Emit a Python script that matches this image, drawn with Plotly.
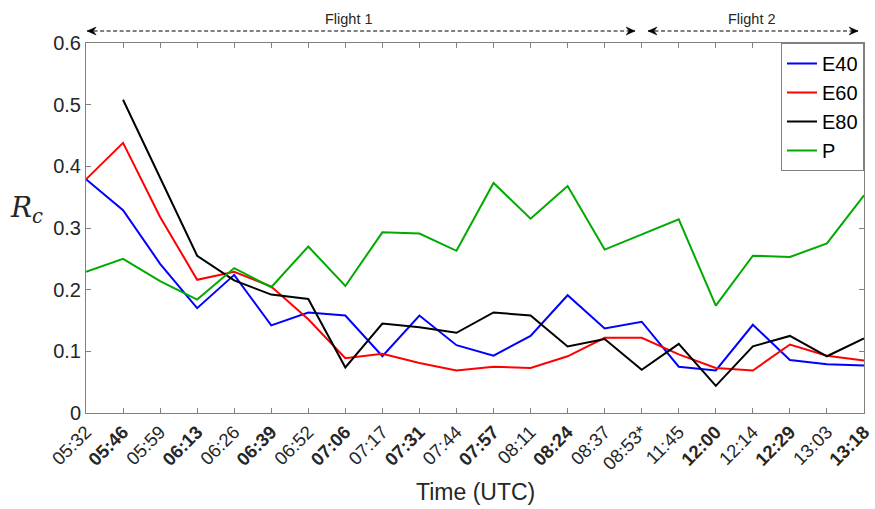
import plotly.graph_objects as go

times = ["05:32", "05:46", "05:59", "06:13", "06:26", "06:39", "06:52", "07:06", "07:17", "07:31",
         "07:44", "07:57", "08:11", "08:24", "08:37", "08:53*", "11:45", "12:00", "12:14", "12:29",
         "13:03", "13:18"]
bold_times = ["05:46", "06:13", "06:39", "07:06", "07:31", "07:57", "08:24", "12:00", "12:29", "13:18"]

e40 = [0.379, 0.329, 0.242, 0.170, 0.224, 0.142, 0.163, 0.158, 0.092, 0.158, 0.110, 0.093,
       0.125, 0.191, 0.137, 0.148, 0.075, 0.069, 0.143, 0.086, 0.079, 0.077]
e60 = [0.379, 0.438, 0.318, 0.216, 0.229, 0.205, 0.152, 0.089, 0.096, 0.081, 0.069, 0.075,
       0.073, 0.092, 0.122, 0.122, 0.095, 0.073, 0.069, 0.111, 0.093, 0.085]
e80 = [None, 0.508, 0.381, 0.255, 0.215, 0.192, 0.185, 0.074, 0.145, 0.139, 0.130, 0.163,
       0.158, 0.108, 0.120, 0.070, 0.112, 0.044, 0.108, 0.125, 0.092, 0.121]
p = [0.229, 0.250, 0.214, 0.184, 0.235, 0.204, 0.270, 0.206, 0.293, 0.291, 0.263, 0.373,
     0.315, 0.368, 0.265, 0.290, 0.314, 0.174, 0.255, 0.253, 0.275, 0.353]

series = [("E40", e40, "#0000ff"), ("E60", e60, "#ff0000"), ("E80", e80, "#000000"), ("P", p, "#00aa00")]

flight_labels = ["Flight 1", "Flight 2"]

xs = list(range(len(times)))
ticktext = [f"<b>{t}</b>" if t in bold_times else t for t in times]

FONT = "Liberation Sans, Arial, Helvetica, sans-serif"
TXT = "#262626"
AX = "#808080"

fig = go.Figure()
for name, vals, col in series:
    fig.add_trace(go.Scatter(x=xs, y=vals, mode="lines", name=name,
                             line=dict(color=col, width=2), connectgaps=False))

fig.update_layout(
    width=875, height=509,
    margin=dict(l=86, r=11, t=43, b=96),
    paper_bgcolor="white", plot_bgcolor="white",
    font=dict(family=FONT, color=TXT),
    showlegend=True,
    legend=dict(x=1, xanchor="right", y=1, yanchor="top",
                bgcolor="white", bordercolor=AX, borderwidth=1,
                font=dict(size=20, color="#000000", family=FONT),
                itemwidth=30, tracegroupgap=0),
    xaxis=dict(range=[0, len(times) - 1], tickmode="array", tickvals=xs, ticktext=ticktext,
               tickangle=-45, ticks="inside", ticklen=5, tickcolor=AX,
               showline=True, linecolor=AX, linewidth=1, mirror="ticks",
               showgrid=False, zeroline=False, automargin=False,
               tickfont=dict(size=18.5, color=TXT, family=FONT)),
    yaxis=dict(range=[0, 0.6], tickvals=[0, 0.1, 0.2, 0.3, 0.4, 0.5, 0.6],
               ticktext=["0", "0.1", "0.2", "0.3", "0.4", "0.5", "0.6"],
               ticks="inside", ticklen=5, tickcolor=AX,
               showline=True, linecolor=AX, linewidth=1, mirror="ticks",
               showgrid=False, zeroline=False, automargin=False,
               tickfont=dict(size=20, color=TXT, family=FONT)),
)

# x-axis title
fig.add_annotation(x=0.5, xref="paper", y=-0.213, yref="paper", xanchor="center", yanchor="middle",
                   text="Time (UTC)", showarrow=False,
                   font=dict(size=23, color=TXT, family=FONT))

# y-axis label (horizontal)
fig.add_annotation(x=-0.076, xref="paper", y=0.55, yref="paper", xanchor="center", yanchor="middle",
                   text="<i>R</i><sub><i>c</i></sub>", showarrow=False,
                   font=dict(size=28, family="DejaVu Serif, Liberation Serif, serif", color=TXT))

# flight annotations
yline = 1.0324
flights = [(flight_labels[0], 0.03, 14.82, 7.1), (flight_labels[1], 15.17, 20.84, 17.98)]
for label, x0, x1, xl in flights:
    fig.add_shape(type="line", xref="x", yref="paper", x0=x0, x1=x1, y0=yline, y1=yline,
                  line=dict(color="#000000", width=1, dash="4px,2.5px"))
    fig.add_shape(type="path", xref="x", yref="paper", xsizemode="pixel", ysizemode="pixel",
                  xanchor=x1, yanchor=yline, path="M 0,0 L -9,-4 L -6,0 L -9,4 Z",
                  fillcolor="#000000", line=dict(color="#000000", width=0.5))
    fig.add_shape(type="path", xref="x", yref="paper", xsizemode="pixel", ysizemode="pixel",
                  xanchor=x0, yanchor=yline, path="M 0,0 L 9,-4 L 6,0 L 9,4 Z",
                  fillcolor="#000000", line=dict(color="#000000", width=0.5))
    fig.add_annotation(x=xl, xref="x", y=yline, yref="paper", yanchor="bottom",
                       yshift=2, text=label, showarrow=False,
                       font=dict(size=14.5, color=TXT, family=FONT))

fig.write_html("out.html")
